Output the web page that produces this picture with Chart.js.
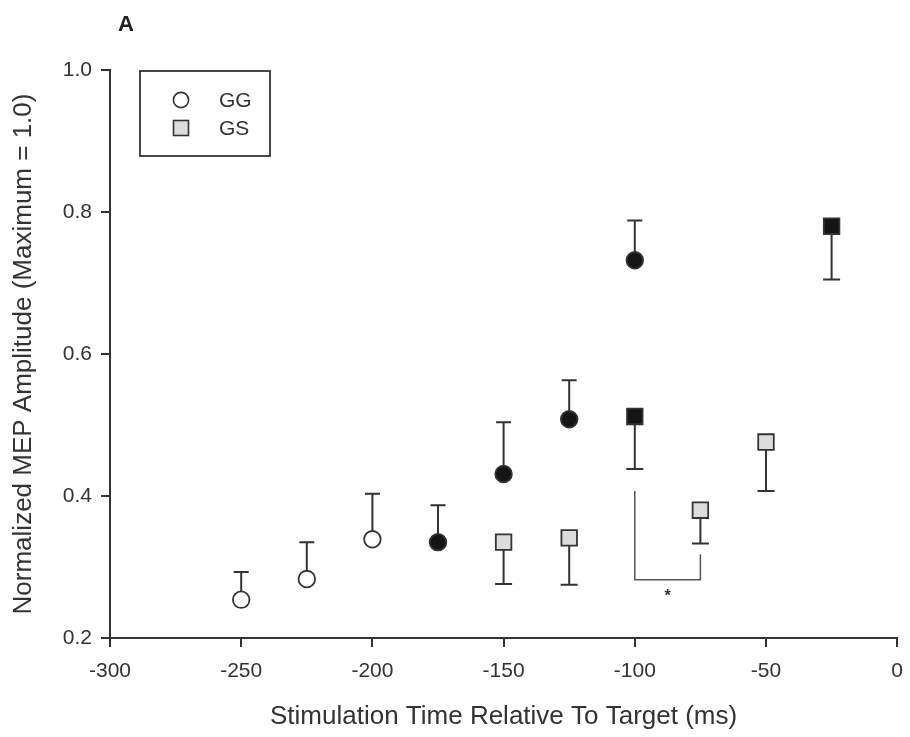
<!DOCTYPE html>
<html>
<head>
<meta charset="utf-8">
<script src="https://cdn.jsdelivr.net/npm/chart.js@4.4.1/dist/chart.umd.min.js"></script>
<style>
  html, body { margin: 0; padding: 0; background: #fff; }
  canvas { display: block; }
</style>
</head>
<body>
<canvas id="mepChart" width="910" height="737"></canvas>
<script>
// GG condition (circles, error bar upward)
var ggTime = [-250, -225, -200, -175, -150, -125, -100];
var ggMean = [0.254, 0.283, 0.339, 0.335, 0.431, 0.508, 0.732];
var ggUpper = [0.293, 0.335, 0.403, 0.387, 0.504, 0.563, 0.788];
var ggSig = [false, false, false, true, true, true, true];

// GS condition (squares, error bar downward)
var gsTime = [-150, -125, -100, -75, -50, -25];
var gsMean = [0.335, 0.341, 0.512, 0.380, 0.476, 0.780];
var gsLower = [0.276, 0.275, 0.438, 0.333, 0.407, 0.705];
var gsSig = [false, false, true, false, false, true];

// significance bracket between -100 and -75
var bracketX = [-100, -100, -75, -75];
var bracketY = [0.407, 0.282, 0.282, 0.318];
var starPos = [-87.5, 0.262];

var xTicks = [-300, -250, -200, -150, -100, -50, 0];
var yTicks = [0.2, 0.4, 0.6, 0.8, 1.0];

var ink = '#333333';
var fontFam = '"Liberation Sans", Arial, Helvetica, sans-serif';

function pts(xs, ys) {
	var out = [];
	for (var i = 0; i < xs.length; i++) out.push({x: xs[i], y: ys[i]});
	return out;
}

var errorBars = {
	id: 'errorBars',
	beforeDatasetsDraw: function(chart) {
		var ctx = chart.ctx;
		var xs = chart.scales.x, ys = chart.scales.y;
		ctx.save();
		ctx.strokeStyle = ink;
		ctx.lineWidth = 2;
		var sets = [[ggTime, ggMean, ggUpper, 7.5], [gsTime, gsMean, gsLower, 8.5]];
		sets.forEach(function(s) {
			for (var i = 0; i < s[0].length; i++) {
				var px = xs.getPixelForValue(s[0][i]);
				var p0 = ys.getPixelForValue(s[1][i]);
				var p1 = ys.getPixelForValue(s[2][i]);
				ctx.beginPath();
				ctx.moveTo(px, p0);
				ctx.lineTo(px, p1);
				ctx.moveTo(px - s[3], p1);
				ctx.lineTo(px + s[3], p1);
				ctx.stroke();
			}
		});
		// bracket
		ctx.strokeStyle = '#555';
		ctx.lineWidth = 1.5;
		ctx.beginPath();
		for (var j = 0; j < bracketX.length; j++) {
			var bx = xs.getPixelForValue(bracketX[j]);
			var by = ys.getPixelForValue(bracketY[j]);
			if (j == 0) ctx.moveTo(bx, by); else ctx.lineTo(bx, by);
		}
		ctx.stroke();
		ctx.fillStyle = ink;
		ctx.font = 'bold 16px ' + fontFam;
		ctx.textAlign = 'center';
		ctx.textBaseline = 'middle';
		ctx.fillText('*', xs.getPixelForValue(starPos[0]), ys.getPixelForValue(starPos[1]) + 3);
		ctx.restore();
	}
};

var extras = {
	id: 'extras',
	afterDraw: function(chart) {
		var ctx = chart.ctx;
		var a = chart.chartArea;
		ctx.save();
		// panel letter
		ctx.fillStyle = '#222';
		ctx.font = 'bold 22px ' + fontFam;
		ctx.textAlign = 'center';
		ctx.textBaseline = 'middle';
		ctx.fillText('A', a.left + 16, 25);
		// legend box
		var lx = a.left + 30, ly = a.top + 1;
		ctx.strokeStyle = ink;
		ctx.lineWidth = 1.8;
		ctx.strokeRect(lx, ly, 130, 85);
		ctx.lineWidth = 1.6;
		ctx.beginPath();
		ctx.arc(lx + 41, ly + 29, 7.6, 0, Math.PI * 2);
		ctx.fillStyle = '#fff';
		ctx.fill();
		ctx.stroke();
		ctx.fillStyle = '#dcdcdc';
		ctx.fillRect(lx + 33.5, ly + 49.5, 15, 15);
		ctx.strokeRect(lx + 33.5, ly + 49.5, 15, 15);
		ctx.fillStyle = ink;
		ctx.font = '21px ' + fontFam;
		ctx.textAlign = 'left';
		ctx.fillText('GG', lx + 79, ly + 30);
		ctx.fillText('GS', lx + 79, ly + 58);
		ctx.restore();
	}
};

var mepChart = new Chart('mepChart', {
	type: 'scatter',
	data: {
		datasets: [{
			label: 'GG',
			data: pts(ggTime, ggMean),
			pointStyle: 'circle',
			pointRadius: 8.3,
			pointBorderWidth: 1.8,
			pointBorderColor: ink,
			pointBackgroundColor: ggSig.map(function(s) { return s ? '#151515' : '#ffffff'; })
		}, {
			label: 'GS',
			data: pts(gsTime, gsMean),
			pointStyle: 'rect',
			pointRadius: 11,
			pointBorderWidth: 1.8,
			pointBorderColor: ink,
			pointBackgroundColor: gsSig.map(function(s) { return s ? '#151515' : '#dcdcdc'; })
		}]
	},
	options: {
		responsive: false,
		animation: false,
		layout: { padding: { top: 70, right: 0, bottom: 3, left: 4 } },
		plugins: { legend: { display: false }, tooltip: { enabled: false } },
		scales: {
			x: {
				min: -300, max: 0,
				afterBuildTicks: function(s) { s.ticks = xTicks.map(function(v) { return {value: v}; }); },
				afterFit: function(s) { s.height = 96; s.paddingRight = 0; },
				grid: { drawOnChartArea: false, drawTicks: true, tickLength: 9, color: ink, lineWidth: 2 },
				border: { display: true, color: ink, width: 2 },
				ticks: { color: ink, padding: 12, maxRotation: 0, font: { family: fontFam, size: 21 } },
				title: { display: true, text: 'Stimulation Time Relative To Target (ms)', color: ink, padding: { top: 0, bottom: 2 }, font: { family: fontFam, size: 26 } }
			},
			y: {
				min: 0.2, max: 1.0,
				afterBuildTicks: function(s) { s.ticks = yTicks.map(function(v) { return {value: v}; }); },
				afterFit: function(s) { s.width = 106; },
				grid: { drawOnChartArea: false, drawTicks: true, tickLength: 9, color: ink, lineWidth: 2 },
				border: { display: true, color: ink, width: 2 },
				ticks: { color: ink, padding: 9, callback: function(v) { return v.toFixed(1); }, font: { family: fontFam, size: 21 } },
				title: { display: true, text: 'Normalized MEP Amplitude (Maximum = 1.0)', color: ink, padding: { top: 4, bottom: 0 }, font: { family: fontFam, size: 26 } }
			}
		}
	},
	plugins: [errorBars, extras]
});
</script>
</body>
</html>
